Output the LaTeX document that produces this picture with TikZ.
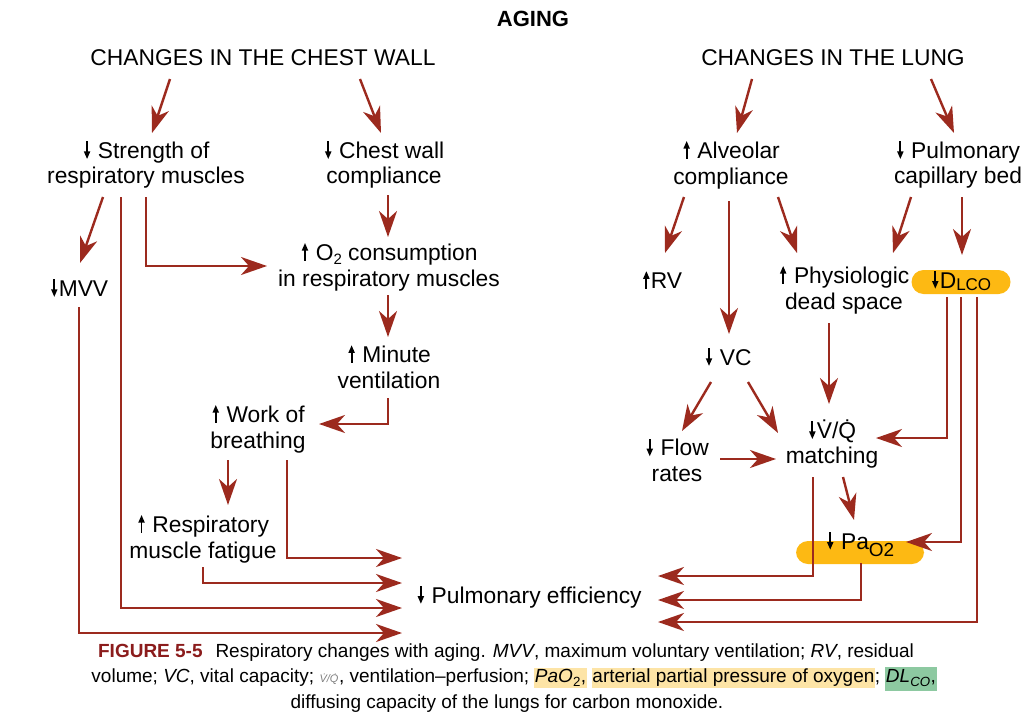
\documentclass[tikz,border=0pt]{standalone}
\usepackage{fontspec}
\setmainfont{Liberation Sans}
\usetikzlibrary{arrows.meta}

\definecolor{arrowred}{HTML}{9C2A1E}
\definecolor{hlyellow}{HTML}{FDB913}
\definecolor{capyellow}{HTML}{FDE4A6}
\definecolor{capgreen}{HTML}{8DC9A1}
\definecolor{figred}{HTML}{8B1C1C}

\newcommand{\hly}[1]{{\setlength{\fboxsep}{0.5pt}\colorbox{capyellow}{\rule[-5pt]{0pt}{19pt}#1}}}
\newcommand{\hlg}[1]{{\setlength{\fboxsep}{0.5pt}\colorbox{capgreen}{\rule[-8pt]{0pt}{23pt}#1}}}
\newcommand{\dnar}{\tikz[x=1pt,y=1pt,baseline=0pt,sharp corners]{\path (-4.5,0) (4.5,0); \fill[black] (-0.9,17) rectangle (0.9,6); \fill[black] (-3.3,7) -- (3.3,7) -- (0,-0.5) -- cycle;}}
\newcommand{\upar}{\tikz[x=1pt,y=1pt,baseline=0pt,sharp corners]{\path (-4.5,0) (4.5,0); \fill[black] (-0.9,0) rectangle (0.9,11); \fill[black] (-3.3,10) -- (3.3,10) -- (0,17.5) -- cycle;}}

\tikzset{
  lbl/.style={align=center, inner sep=0pt, font=\fontsize{22.8}{25.5}\selectfont},
  hlbox/.style={lbl, fill=hlyellow, rounded corners=12pt},
  arr/.style={draw=arrowred, line width=2.4pt, -{Stealth[length=26pt,width=18pt,inset=8pt]}},
}

\begin{document}
\begin{tikzpicture}[x=1pt,y=-1pt]
\useasboundingbox (0,0) rectangle (1026,723);

\node[lbl, font=\fontsize{22}{22}\selectfont\bfseries] (aging) at (533,19) {AGING};
\node[lbl] (cw) at (263,58) {CHANGES IN THE CHEST WALL};
\node[lbl] (lung) at (833,58) {CHANGES IN THE LUNG};

\node[lbl] (str) at (146,165) {\dnar{} Strength of\\respiratory muscles};
\node[lbl] (cwc) at (384,165) {\dnar{} Chest wall\\compliance};
\node[lbl] (mvv) at (79,288) {\dnar MVV};
\node[lbl] (o2) at (389,267) {\upar{} O\raisebox{-4pt}{\fontsize{15}{15}\selectfont 2} consumption\\in respiratory muscles};
\node[lbl] (minute) at (389,367) {\upar{} Minute\\ventilation};
\node[lbl] (work) at (258,429) {\upar{} Work of\\breathing};
\node[lbl] (fatigue) at (203,539) {\upar{} Respiratory\\muscle fatigue};
\node[lbl] (pulm) at (529,597) {\dnar{} Pulmonary efficiency};

\node[lbl] (alv) at (731,165) {\upar{} Alveolar\\compliance};
\node[lbl] (bed) at (958,165) {\dnar{} Pulmonary\\capillary bed};
\node[lbl] (rv) at (662,280) {\upar RV};
\node[lbl] (phys) at (844,290) {\upar{} Physiologic\\dead space};
\node[hlbox, minimum width=99pt, text height=18pt, text depth=6pt] (dlco) at (961,282) {\dnar D{\fontsize{17}{17}\selectfont\raisebox{-2pt}{LCO}}};
\node[lbl] (vc) at (728,357) {\dnar{} VC};
\node[lbl] (flow) at (677,460) {\dnar{} Flow\\rates};
\node[lbl] (vq) at (832,444) {\dnar\.{V}/\.{Q}\\matching};
\node[hlbox, minimum width=128pt, text height=8pt, text depth=15pt] (pao2) at (860,552.5) {\dnar{} Pa\raisebox{-7pt}{\fontsize{19}{19}\selectfont O2}};

\draw[arr] ([shift={(-93,21)}]cw.center) -- ([shift={(6,-32)}]str.center);
\draw[arr] ([shift={(97,21)}]cw.center) -- ([shift={(-3,-32)}]cwc.center);
\draw[arr] ([shift={(-81,21)}]lung.center) -- ([shift={(6,-32)}]alv.center);
\draw[arr] ([shift={(98,21)}]lung.center) -- ([shift={(-4,-32)}]bed.center);

\draw[arr] ([shift={(-43,32)}]str.center) -- ([shift={(1,-25)}]mvv.center);
\draw[arr] ([shift={(-25,32)}]str.center) |- ([shift={(-127,11)}]pulm.center);
\draw[arr] ([shift={(0,32)}]str.center) |- ([shift={(-122,-1)}]o2.center);
\draw[arr] ([shift={(0,19)}]mvv.center) |- ([shift={(-127,36)}]pulm.center);
\draw[arr] ([shift={(4,30)}]cwc.center) -- ([shift={(-1,-30)}]o2.center);
\draw[arr] ([shift={(-1,28)}]o2.center) -- ([shift={(-1,-30)}]minute.center);
\draw[arr] ([shift={(-1,31)}]minute.center) |- ([shift={(61,-5)}]work.center);
\draw[arr] ([shift={(-30,31)}]work.center) -- ([shift={(25,-34)}]fatigue.center);
\draw[arr] ([shift={(29,31)}]work.center) |- ([shift={(-127,-39)}]pulm.center);
\draw[arr] ([shift={(0,28)}]fatigue.center) |- ([shift={(-127,-14)}]pulm.center);

\draw[arr] ([shift={(-47,32)}]alv.center) -- ([shift={(3,-27)}]rv.center);
\draw[arr] ([shift={(-2,36)}]alv.center) -- ([shift={(1,-23)}]vc.center);
\draw[arr] ([shift={(47,32)}]alv.center) -- ([shift={(-47,-37)}]phys.center);
\draw[arr] ([shift={(-47,32)}]bed.center) -- ([shift={(49,-37)}]phys.center);
\draw[arr] ([shift={(4,32)}]bed.center) -- ([shift={(1,-27)}]dlco.center);
\draw[arr] ([shift={(-15,33)}]phys.center) -- ([shift={(-3,-40)}]vq.center);
\draw[arr] ([shift={(-17,25)}]vc.center) -- ([shift={(5,-29)}]flow.center);
\draw[arr] ([shift={(20,25)}]vc.center) -- ([shift={(-54,-11)}]vq.center);
\draw[arr] ([shift={(43,-1)}]flow.center) -- ([shift={(-56,15)}]vq.center);
\draw[arr] ([shift={(-14,15)}]dlco.center) |- ([shift={(44,-6)}]vq.center);
\draw[arr] ([shift={(0,15)}]dlco.center) |- ([shift={(46,-10.5)}]pao2.center);
\draw[arr] ([shift={(16,15)}]dlco.center) |- ([shift={(129,25)}]pulm.center);
\draw[arr] ([shift={(11,33)}]vq.center) -- ([shift={(-6,-32.5)}]pao2.center);
\draw[arr] ([shift={(-19,33)}]vq.center) |- ([shift={(129,-21)}]pulm.center);
\draw[arr] ([shift={(1,10.5)}]pao2.center) |- ([shift={(129,3)}]pulm.center);

\node[align=center, inner sep=0pt, font=\fontsize{19}{25.5}\selectfont] (cap) at (514,678) {%
{\color{figred}\bfseries FIGURE 5-5}\hspace{0.4em} Respiratory changes with aging. \textit{MVV}, maximum voluntary ventilation; \textit{RV}, residual\hspace*{16pt}\\
volume; \textit{VC}, vital capacity; {\color{gray}\fontsize{11}{11}\selectfont\textit{\.{V}/\.{Q}}}, ventilation--perfusion; \hly{\textit{PaO}\textsubscript{2},} \hly{arterial partial pressure of oxygen}; \hlg{\textit{DL}\textsubscript{\textit{CO}},}\\
diffusing capacity of the lungs for carbon monoxide.\hspace*{14pt}};

\end{tikzpicture}
\end{document}
